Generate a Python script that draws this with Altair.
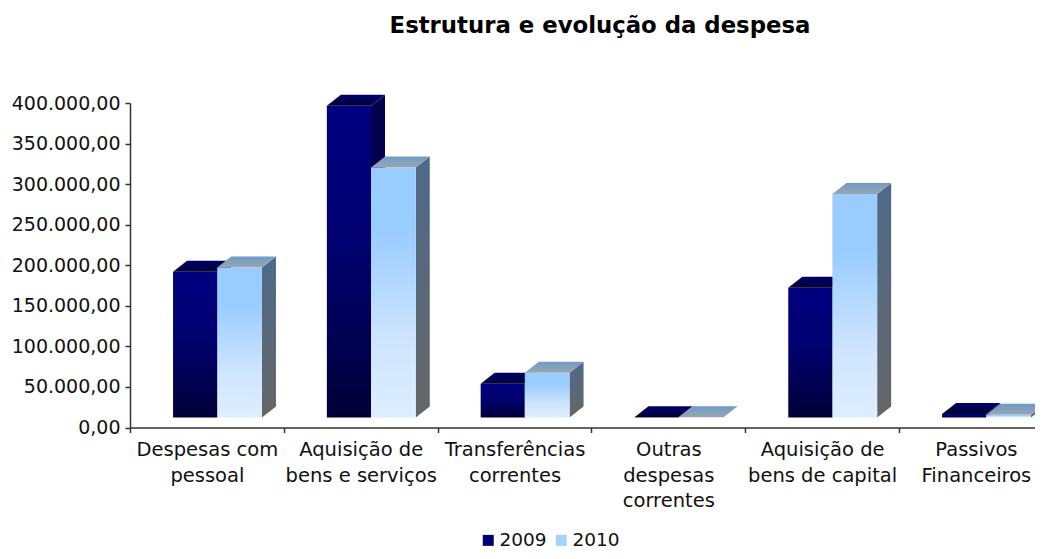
import altair as alt
import pandas as pd

title_text = "Estrutura e evolução da despesa"
categories = ["Despesas com|pessoal", "Aquisição de|bens e serviços", "Transferências|correntes",
              "Outras|despesas|correntes", "Aquisição de|bens de capital", "Passivos|Financeiros"]
years = ["2009", "2010"]
values_2009 = [179650, 384300, 41500, 300, 160000, 4200]
values_2010 = [185000, 308300, 55100, 300, 275500, 3300]
y_ticks = [0, 50000, 100000, 150000, 200000, 250000, 300000, 350000, 400000]

PLOT_W, PLOT_H = 905, 324.5
CAT_W = 153.8
PX_Y = 400000 / PLOT_H
FLOOR = 10 * PX_Y
DX = 14 / CAT_W
DY = 11 * PX_Y
X_MAX = PLOT_W / CAT_W
BAR_POS = {"2009": (0.28, 0.567), "2010": (0.567, 0.858)}


def grad(stops):
    return alt.Gradient(gradient="linear", x1=0, y1=0, x2=0, y2=1,
                        stops=[alt.GradientStop(offset=o, color=c) for o, c in stops])


STYLE = {
    "2009": {
        "face": grad([(0, "#000080"), (0.45, "#000070"), (1, "#000038")]),
        "top": grad([(0, "#000070"), (1, "#000030")]),
        "side": grad([(0, "#000050"), (1, "#000040")]),
    },
    "2010": {
        "face": grad([(0, "#99ccff"), (0.25, "#99ccff"), (0.7, "#cfe5ff"), (1, "#ddeeff")]),
        "top": grad([(0, "#6f9cc8"), (1, "#9aa5b0")]),
        "side": grad([(0, "#4d6a8a"), (1, "#666666")]),
    },
}

xsc = alt.Scale(domain=[0, X_MAX], nice=False, zero=False)
ysc = alt.Scale(domain=[0, 400000], nice=False, zero=False)

cat_expr = "[" + ",".join("'" + c + "'" for c in categories) + "]"
x_axis = alt.Axis(
    title=None, values=[i / 2 for i in range(12)], grid=False,
    tickSize=5, tickWidth=1.5, tickColor="#333333",
    tickOpacity={"condition": {"test": "datum.value % 1 == 0", "value": 1}, "value": 0},
    domainColor="#333333", domainWidth=1.5,
    labelFont="DejaVu Sans", labelFontSize=19.5, labelColor="#111111",
    labelOverlap=False, labelFlush=False, labelBound=False, labelAngle=0, labelAlign="center",
    labelPadding=8, labelLineHeight=25.5, labelBaseline="top",
    labelExpr="datum.value % 1 == 0.5 ? split(" + cat_expr + "[floor(datum.value)], '|') : ''",
)
y_axis = alt.Axis(
    title=None, values=y_ticks, grid=False,
    tickSize=5, tickWidth=1.5, tickColor="#333333",
    domainColor="#333333", domainWidth=1.5,
    labelFont="DejaVu Sans", labelFontSize=19, labelColor="#111111", labelPadding=5,
    labelExpr="join(split(format(datum.value, ',.0f'), ','), '.') + ',00'",
)

layers = []

# zero-size carrier for the axes and the legend
axis_df = pd.DataFrame({"x": [0.5, 0.5], "y": [0, 0], "year": years})
layers.append(
    alt.Chart(axis_df).mark_square(size=0, opacity=1).encode(
        x=alt.X("x:Q", scale=xsc, axis=x_axis),
        y=alt.Y("y:Q", scale=ysc, axis=y_axis),
        color=alt.Color("year:N", scale=alt.Scale(domain=years, range=["#000070", "#a8d2ff"]),
                        legend=alt.Legend(title=None, orient="none", legendX=349, legendY=428,
                                          direction="horizontal", symbolType="square", symbolSize=121,
                                          symbolStrokeWidth=0, symbolOpacity=1,
                                          labelFont="DejaVu Sans", labelFontSize=18.5,
                                          labelColor="#111111", labelOffset=2, columnPadding=5)),
    )
)

for year, vals in zip(years, [values_2009, values_2010]):
    l, r = BAR_POS[year]
    faces, tops, sides = [], [], []
    for i, v in enumerate(vals):
        xl, xr = i + l, i + r
        base, top = FLOOR, FLOOR + v
        faces.append({"x": xl, "x2": xr, "y": base, "y2": top})
        tops.append({"b": i, "yy": top, "xa": xl, "xb": xr})
        tops.append({"b": i, "yy": top + DY, "xa": xl + DX, "xb": xr + DX})
        sides.append({"b": i, "xx": xr, "ya": base, "yb": top})
        sides.append({"b": i, "xx": xr + DX, "ya": base + DY, "yb": top + DY})
    s = STYLE[year]
    layers.append(
        alt.Chart(pd.DataFrame(sides)).mark_area(orient="vertical", color=s["side"]).encode(
            x=alt.X("xx:Q", scale=xsc), y=alt.Y("ya:Q", scale=ysc), y2="yb:Q", detail="b:N")
    )
    layers.append(
        alt.Chart(pd.DataFrame(tops)).mark_area(orient="horizontal", color=s["top"]).encode(
            y=alt.Y("yy:Q", scale=ysc), x=alt.X("xa:Q", scale=xsc), x2="xb:Q", detail="b:N")
    )
    layers.append(
        alt.Chart(pd.DataFrame(faces)).mark_rect(color=s["face"]).encode(
            x=alt.X("x:Q", scale=xsc), x2="x2:Q", y=alt.Y("y:Q", scale=ysc), y2="y2:Q")
    )

chart = alt.layer(*layers).properties(
    width=PLOT_W, height=PLOT_H,
    title=alt.TitleParams(title_text, font="DejaVu Sans", fontSize=22.8, fontWeight="bold", color="#000000",
                          anchor="middle", dx=17.5, offset=56),
    autosize=alt.AutoSizeParams(type="none"),
    padding={"left": 122, "top": 95, "right": 0, "bottom": 123},
).configure_view(stroke=None)

chart.save("out.html", embed_options={"renderer": "svg", "actions": False})
